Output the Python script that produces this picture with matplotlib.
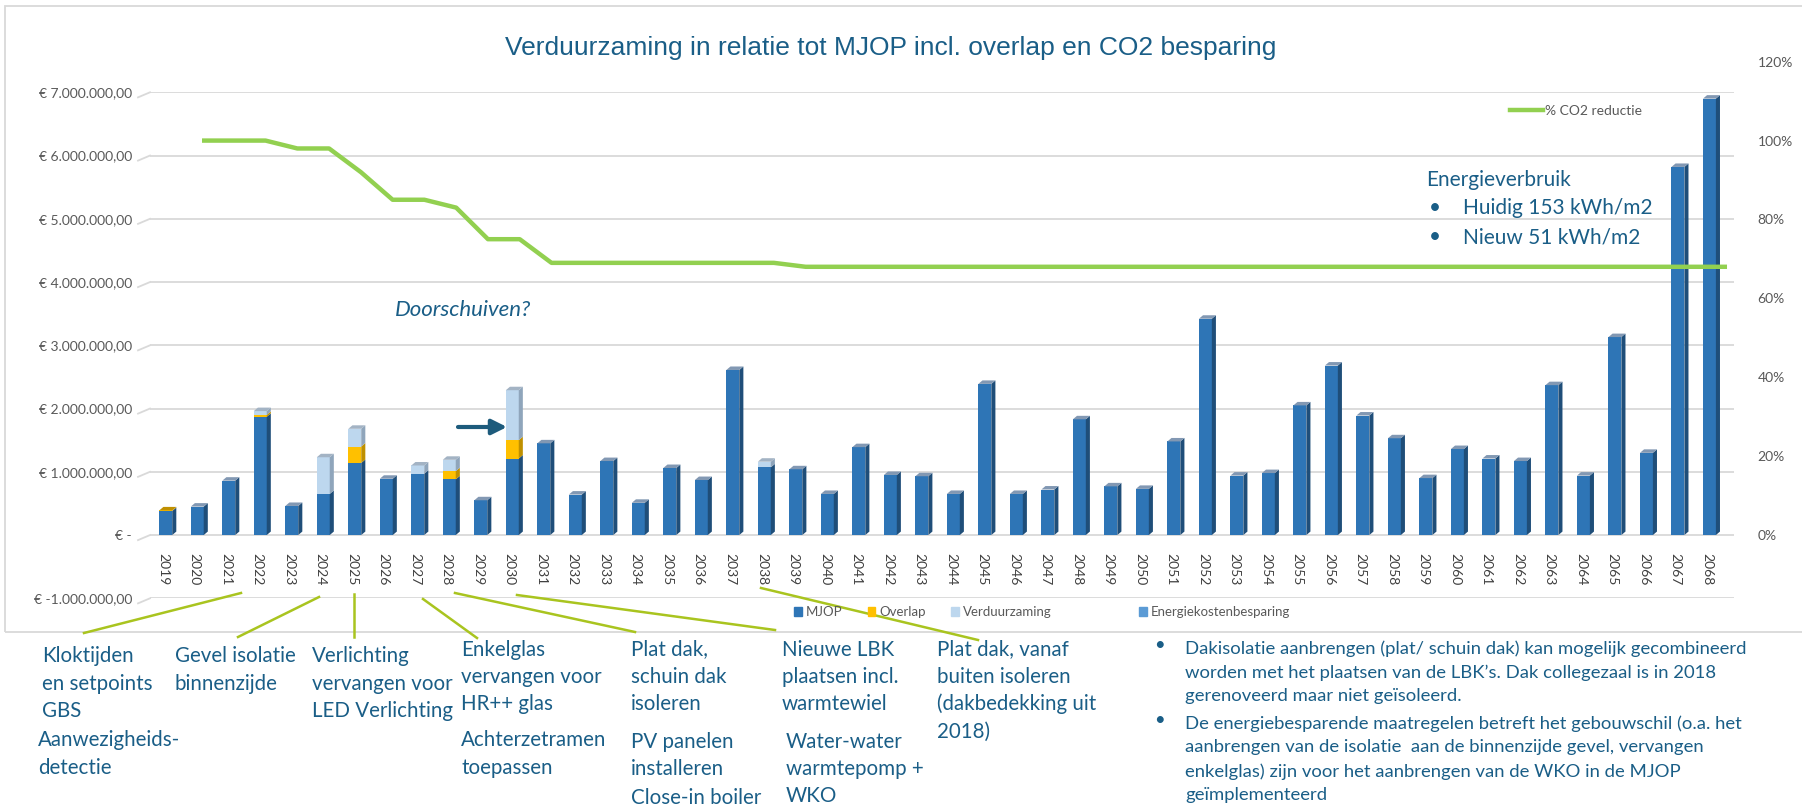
import matplotlib
matplotlib.use('Agg')
import matplotlib.pyplot as plt
from matplotlib.patches import Polygon, Patch, Rectangle
from matplotlib.lines import Line2D
from matplotlib.ticker import FuncFormatter
import numpy as np

plt.rcParams['font.family'] = ['Lato', 'DejaVu Sans']

W, H = 1802, 806

# --- data -------------------------------------------------------------
jaren = list(range(2019, 2069))

mjop = [380000, 450000, 860000, 1870000, 460000, 650000, 1140000, 890000, 970000, 880000,
        550000, 1210000, 1450000, 640000, 1170000, 510000, 1060000, 870000, 2610000, 1070000,
        1040000, 650000, 1390000, 950000, 930000, 650000, 2390000, 650000, 720000, 1830000,
        770000, 730000, 1480000, 3420000, 940000, 980000, 2050000, 2680000, 1890000, 1530000,
        900000, 1360000, 1210000, 1170000, 2370000, 940000, 3130000, 1300000, 5820000, 6900000]

overlap = [10000, 0, 0, 30000, 0, 0, 260000, 0, 0, 130000,
           0, 290000, 0, 0, 0, 0, 0, 0, 0, 0,
           0, 0, 0, 0, 0, 0, 0, 0, 0, 0,
           0, 0, 0, 0, 0, 0, 0, 0, 0, 0,
           0, 0, 0, 0, 0, 0, 0, 0, 0, 0]

verduurzaming = [0, 0, 0, 60000, 0, 580000, 280000, 0, 130000, 180000,
                 0, 790000, 0, 0, 0, 0, 0, 0, 0, 90000,
                 0, 0, 0, 0, 0, 0, 0, 0, 0, 0,
                 0, 0, 0, 0, 0, 0, 0, 0, 0, 0,
                 0, 0, 0, 0, 0, 0, 0, 0, 0, 0]

# % CO2 reductie, from 2020 on
co2_jaren = jaren[1:]
co2_reductie = [1.00, 1.00, 1.00, 0.98, 0.98, 0.92, 0.85, 0.85, 0.83, 0.75,
                0.75, 0.69, 0.69, 0.69, 0.69, 0.69, 0.69, 0.69, 0.69, 0.68,
                0.68, 0.68, 0.68, 0.68, 0.68, 0.68, 0.68, 0.68, 0.68, 0.68,
                0.68, 0.68, 0.68, 0.68, 0.68, 0.68, 0.68, 0.68, 0.68, 0.68,
                0.68, 0.68, 0.68, 0.68, 0.68, 0.68, 0.68, 0.68, 0.68]

euro_ticks = [-1000000, 0, 1000000, 2000000, 3000000, 4000000, 5000000, 6000000, 7000000]
pct_ticks = [0, 0.2, 0.4, 0.6, 0.8, 1.0, 1.2]

# --- styling ----------------------------------------------------------
teal = '#1a5e87'
grey_txt = '#595959'
grid_col = '#d9d9d9'
co2_col = '#92d050'
conn_col = '#a9c41f'

# front, side, cap
kleuren = {
    'MJOP': ('#2e75b6', '#1f4e79', '#8298b3'),
    'Overlap': ('#ffc000', '#bf9000', '#c09000'),
    'Verduurzaming': ('#bdd7ee', '#8fa5bb', '#a3b3c4'),
}
energie_col = '#5b9bd5'


def euro_fmt(v, pos):
    if v == 0:
        return '€ -'
    s = f'{abs(v):,.2f}'.replace(',', 'X').replace('.', ',').replace('X', '.')
    return ('€ -' if v < 0 else '€ ') + s


fig = plt.figure(figsize=(W / 100, H / 100), dpi=100)

# chart frame
fig.add_artist(Rectangle((5 / W, 1 - 632 / H), 1.1, (632 - 6) / H, transform=fig.transFigure,
                         fill=False, ec=grid_col, lw=1.3))

ax = fig.add_axes([150 / W, 1 - 598.3 / H, 1584 / W, 506 / H])
ax.set_xlim(-0.42, 49.86)
ax.set_ylim(-1000000, 7000000)
ax.set_yticks(euro_ticks)
ax.yaxis.set_major_formatter(FuncFormatter(euro_fmt))
ax.grid(axis='y', color=grid_col, lw=1.3, zorder=0)
ax.set_axisbelow(True)
for s in ax.spines.values():
    s.set_visible(False)
ax.spines['bottom'].set_position(('data', 0))
ax.tick_params(axis='y', length=0, pad=13, labelsize=10, labelcolor=grey_txt)
ax.set_xticks(range(len(jaren)))
ax.set_xticklabels([str(j) for j in jaren], rotation=-90)
ax.tick_params(axis='x', length=0, pad=13, labelsize=10, labelcolor='#404040')
ax.patch.set_visible(False)

# little perspective stubs at the left end of each gridline
for t in euro_ticks:
    ax.plot([-0.8, -0.42], [t - 80000, t], color=grid_col, lw=1.3, clip_on=False, zorder=0)

# 3D-ish stacked bars
x = np.arange(len(jaren)) + 0.08
bw, dx, dy = 0.41, 0.13, 55000
bottom = np.zeros(len(jaren))
top_series = [None] * len(jaren)
for naam, vals in [('MJOP', mjop), ('Overlap', overlap), ('Verduurzaming', verduurzaming)]:
    front, side, cap = kleuren[naam]
    vals = np.array(vals, dtype=float)
    ax.bar(x, vals, bottom=bottom, width=bw, color=front, lw=0, zorder=3)
    for i, (xi, b, v) in enumerate(zip(x, bottom, vals)):
        if v <= 0:
            continue
        r = xi + bw / 2
        ax.add_patch(Polygon([(r, b), (r + dx, b + dy), (r + dx, b + v + dy), (r, b + v)],
                             closed=True, color=side, lw=0, zorder=3))
        top_series[i] = naam
    bottom += vals

for xi, t, naam in zip(x, bottom, top_series):
    cap = kleuren[naam][2]
    l, r = xi - bw / 2, xi + bw / 2
    ax.add_patch(Polygon([(l, t), (r, t), (r + dx, t + dy), (l + dx, t + dy)],
                         closed=True, color=cap, lw=0, zorder=3))

# percent axis with the CO2 line
ax2 = fig.add_axes([150 / W, 1 - 598.3 / H, 1584 / W, (598.3 - 61.7) / H])
ax2.patch.set_visible(False)
ax2.set_xlim(-0.637, 49.22)
ax2.set_ylim(-0.1605, 1.2)
ax2.plot([jaren.index(j) for j in co2_jaren], co2_reductie, color=co2_col, lw=3.2,
         solid_capstyle='butt', zorder=5)
ax2.set_xticks([])
ax2.set_yticks(pct_ticks)
ax2.yaxis.set_major_formatter(FuncFormatter(lambda v, p: f'{v * 100:.0f}%'))
ax2.yaxis.tick_right()
ax2.tick_params(axis='y', length=0, pad=17, labelsize=10, labelcolor=grey_txt)
for s in ax2.spines.values():
    s.set_visible(False)

# legends
leg1 = fig.legend([Patch(color=kleuren[k][0]) for k in ['MJOP', 'Overlap', 'Verduurzaming']],
                  ['MJOP', 'Overlap', 'Verduurzaming'], loc='center left',
                  bbox_to_anchor=(794 / W, 1 - 612 / H), ncol=3, frameon=False, fontsize=9.5,
                  handlelength=0.6, handleheight=0.6, handletextpad=0.3, columnspacing=1.9,
                  borderpad=0, borderaxespad=0, labelcolor=grey_txt)
leg2 = fig.legend([Patch(color=energie_col)], ['Energiekostenbesparing'], loc='center left',
                  bbox_to_anchor=(1139 / W, 1 - 612 / H), frameon=False, fontsize=9.5,
                  handlelength=0.6, handleheight=0.6, handletextpad=0.3,
                  borderpad=0, borderaxespad=0, labelcolor=grey_txt)
leg3 = fig.legend([Line2D([], [], color=co2_col, lw=3.2)], ['% CO2 reductie'], loc='center left',
                  bbox_to_anchor=(1510 / W, 1 - 111 / H), frameon=False, fontsize=10,
                  handlelength=2.4, handletextpad=0.1, borderpad=0, borderaxespad=0,
                  labelcolor=grey_txt)

# title
fig.text(891 / W, 1 - 48 / H, 'Verduurzaming in relatie tot MJOP incl. overlap en CO2 besparing',
         ha='center', va='center', fontsize=19, family='Liberation Sans', color=teal)

# Doorschuiven? + arrow
fig.text(463 / W, 1 - 310 / H, 'Doorschuiven?', ha='center', va='center', fontsize=16,
         style='italic', color=teal)
ax.annotate('', xy=(507 / W, 1 - 427 / H), xytext=(458 / W, 1 - 427 / H),
            xycoords='figure fraction', textcoords='figure fraction',
            arrowprops=dict(arrowstyle='-|>,head_length=0.9,head_width=0.45', lw=3,
                            color='#1d5b7c', shrinkA=0, shrinkB=0))

# Energieverbruik box
fig.text(1426 / W, 1 - 180 / H, 'Energieverbruik', va='center', fontsize=15, color=teal)
for yy, s in [(208, 'Huidig 153 kWh/m2'), (237, 'Nieuw 51 kWh/m2')]:
    fig.text(1429 / W, 1 - yy / H, '•', va='center', fontsize=15, color=teal)
    fig.text(1463 / W, 1 - yy / H, s, va='center', fontsize=15, color=teal)

# connector lines (figure px: start, end)
connectors = [((241, 593), (84, 633)),
              ((319, 597), (238, 637)),
              ((354, 594), (354, 637)),
              ((423, 599), (477, 638)),
              ((455, 593), (635, 632)),
              ((517, 595), (775, 630)),
              ((761, 588), (978, 640))]
for (x0, y0), (x1, y1) in connectors:
    fig.add_artist(Line2D([x0 / W, x1 / W], [1 - y0 / H, 1 - y1 / H], color=conn_col, lw=1.8))

# measure texts under the chart (x left, y of first line centre)
notities = [(42, 653, 'Kloktijden\nen setpoints\nGBS'),
            (38, 737, 'Aanwezigheids-\ndetectie'),
            (175, 653, 'Gevel isolatie\nbinnenzijde'),
            (312, 653, 'Verlichting\nvervangen voor\nLED Verlichting'),
            (461, 646, 'Enkelglas\nvervangen voor\nHR++ glas'),
            (461, 737, 'Achterzetramen\ntoepassen'),
            (631, 646, 'Plat dak,\nschuin dak\nisoleren'),
            (631, 738, 'PV panelen\ninstalleren'),
            (631, 795, 'Close-in boiler'),
            (782, 646, 'Nieuwe LBK\nplaatsen incl.\nwarmtewiel'),
            (786, 738, 'Water-water\nwarmtepomp +\nWKO'),
            (937, 646, 'Plat dak, vanaf\nbuiten isoleren\n(dakbedekking uit\n2018)')]
for xx, yy, s in notities:
    fig.text(xx / W, 1 - (yy - 6.5) / H, s, va='top', fontsize=14.8, linespacing=1.44, color=teal)

opmerkingen = [(645, 'Dakisolatie aanbrengen (plat/ schuin dak) kan mogelijk gecombineerd\n'
                     'worden met het plaatsen van de LBK\u2019s. Dak collegezaal is in 2018\n'
                     'gerenoveerd maar niet geïsoleerd.'),
               (720, 'De energiebesparende maatregelen betreft het gebouwschil (o.a. het\n'
                     'aanbrengen van de isolatie  aan de binnenzijde gevel, vervangen\n'
                     'enkelglas) zijn voor het aanbrengen van de WKO in de MJOP\n'
                     'geïmplementeerd')]
for yy, s in opmerkingen:
    fig.text(1154 / W, 1 - yy / H, '•', va='center', fontsize=13.3, color=teal)
    fig.text(1185 / W, 1 - (yy - 5) / H, s, va='top', fontsize=13.3, linespacing=1.58, color=teal)

fig.savefig('out.png', dpi=100)
